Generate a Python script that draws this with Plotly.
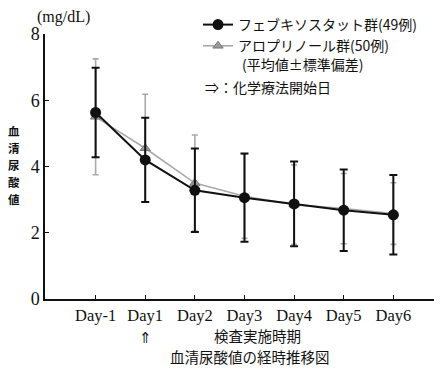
import plotly.graph_objects as go

categories = ["Day-1", "Day1", "Day2", "Day3", "Day4", "Day5", "Day6"]
febuxostat_mean = [5.63, 4.20, 3.28, 3.06, 2.87, 2.68, 2.54]
febuxostat_sd = [1.35, 1.27, 1.26, 1.33, 1.28, 1.23, 1.20]
allopurinol_mean = [5.50, 4.55, 3.50, 3.10, 2.85, 2.73, 2.58]
allopurinol_sd = [1.75, 1.63, 1.45, 1.27, 1.20, 1.06, 0.93]
y_ticks = [0, 2, 4, 6, 8]
y_title_chars = ["血", "清", "尿", "酸", "値"]

xs = list(range(len(categories)))
SERIF = "Liberation Serif, Noto Sans CJK JP"
JP = "Noto Sans CJK JP"

fig = go.Figure()
fig.add_trace(go.Scatter(
    x=xs, y=allopurinol_mean, mode="lines+markers",
    name="アロプリノール群(50例)",
    line=dict(color="#aaaaaa", width=1.6),
    marker=dict(symbol="triangle-up", size=9, color="#9a9a9a",
                line=dict(color="#777777", width=1)),
    error_y=dict(type="data", array=allopurinol_sd, visible=True,
                 color="#aaaaaa", thickness=1.6, width=3),
))
fig.add_trace(go.Scatter(
    x=xs, y=febuxostat_mean, mode="lines+markers",
    name="フェブキソスタット群(49例)",
    line=dict(color="#111111", width=2),
    marker=dict(symbol="circle", size=11, color="#111111"),
    error_y=dict(type="data", array=febuxostat_sd, visible=True,
                 color="#111111", thickness=2, width=4),
))

# page body has an 8px margin; figure is sized/placed to compensate
OFF = 8
W, H = 442 - OFF, 381 - OFF
L, R, T, B = 45 - OFF, 4, 34 - OFF, 82
pw, ph = W - L - R, H - T - B

def px(x):
    return (x - OFF - L) / pw

def py(y):
    return (H - B - (y - OFF)) / ph

fig.update_layout(
    width=W, height=H,
    margin=dict(l=L, r=R, t=T, b=B, autoexpand=False),
    paper_bgcolor="white", plot_bgcolor="white",
    showlegend=True,
    legend=dict(x=px(198), y=py(9), xanchor="left", yanchor="top",
                traceorder="reversed", itemwidth=30,
                font=dict(family=JP, size=14, color="#111"),
                bgcolor="rgba(0,0,0,0)", tracegroupgap=0),
    xaxis=dict(range=[-1.02, 6.9], tickmode="array", tickvals=xs,
               ticktext=categories, showline=True, linecolor="#111",
               linewidth=1.5, ticks="inside", ticklen=4, tickcolor="#111",
               showgrid=False, zeroline=False,
               tickfont=dict(family=SERIF, size=16.5, color="#111")),
    yaxis=dict(range=[0, 8], tickmode="array", tickvals=y_ticks,
               showline=True, linecolor="#111", linewidth=1.5,
               ticks="inside", ticklen=4, tickcolor="#111",
               showgrid=False, zeroline=False,
               tickfont=dict(family=SERIF, size=18, color="#111")),
)

ann = [
    dict(text="(mg/dL)", x=px(63), y=py(17.5), font=dict(family=SERIF, size=16)),
    dict(text="⇑", x=1, xref="x", y=py(336), font=dict(family=JP, size=15)),
    dict(text="検査実施時期", x=px(257), y=py(335.5), font=dict(family=JP, size=14.5)),
    dict(text="血清尿酸値の経時推移図", x=px(250), y=py(356.5),
         font=dict(family=JP, size=14.5)),
    dict(text="(平均値±標準偏差)", x=px(240), y=py(64), xanchor="left",
         font=dict(family=JP, size=14)),
    dict(text="⇒：化学療法開始日", x=px(203), y=py(87), xanchor="left",
         font=dict(family=JP, size=14)),
]
for i, ch in enumerate(y_title_chars):
    ann.append(dict(text="<b>" + ch + "</b>", x=px(13.5),
                    y=py(165 + 16.8 * (i - 2)),
                    font=dict(family=JP, size=11.5)))
for a in ann:
    a.setdefault("xref", "paper")
    a.setdefault("xanchor", "center")
    a["yref"] = "paper"
    a["yanchor"] = "middle"
    a["showarrow"] = False
    a["font"]["color"] = "#111"
    fig.add_annotation(**a)

fig.write_html("out.html")
